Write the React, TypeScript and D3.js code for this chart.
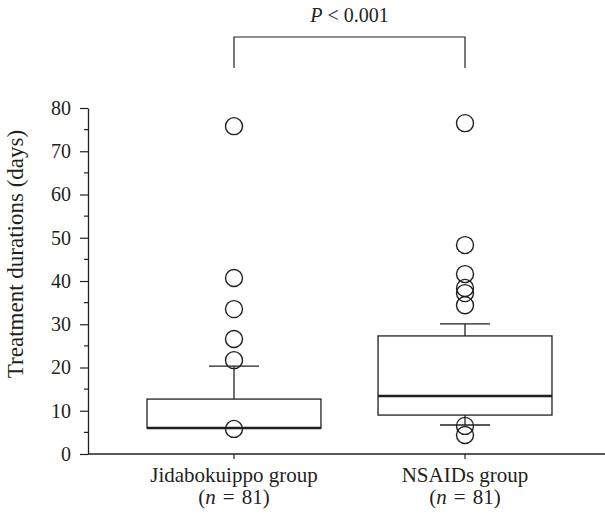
import * as d3 from 'd3';
import { useEffect, useRef } from 'react';

// groups and summary stats (days)
const categories = ['Jidabokuippo group', 'NSAIDs group'];
const groupN = [81, 81];
const q1 = [6.0, 9.0];
const medians = [6.0, 13.4];
const q3 = [12.7, 27.3];
const whiskerLow = [6.0, 6.7];
const whiskerHigh = [20.3, 30.1];
const outliersJida = [75.8, 40.7, 33.5, 26.6, 21.7, 5.8];
const outliersNsaid = [76.5, 48.3, 41.6, 38.4, 37.2, 34.4, 6.5, 4.4];
const yTicks = [0, 10, 20, 30, 40, 50, 60, 70, 80];
const yMinorTicks = [5, 15, 25, 35, 45, 55, 65, 75];
const pLabel = '< 0.001';

const FONT = '"Liberation Serif", "Times New Roman", serif';

function App() {
    const svgRef = useRef(null);

    useEffect(() => {
        const w = 605;
        const h = 516;
        const svg = d3.select(svgRef.current)
            .attr('width', w)
            .attr('height', h);
        svg.selectAll('*').remove();

        const left = 88;
        const right = 605;
        const y = d3.scaleLinear().domain([0, 80]).range([454, 108]);
        const x = d3.scalePoint()
            .domain(categories)
            .range([94, 605])
            .padding(0.606);
        const boxW = x.step() * 0.753;
        const capW = 50;
        const ink = '#231f20';

        // y axis
        const yAxis = d3.axisLeft(y)
            .tickValues(yTicks)
            .tickSize(8)
            .tickSizeOuter(0)
            .tickPadding(9);
        const gy = svg.append('g')
            .attr('transform', `translate(${left},0)`)
            .call(yAxis);
        gy.select('.domain').attr('stroke', ink).attr('stroke-width', 1.3);
        gy.selectAll('.tick line').attr('stroke', ink).attr('stroke-width', 1.2);
        gy.selectAll('.tick text')
            .attr('font-family', FONT)
            .attr('font-size', 20)
            .attr('fill', ink);
        gy.selectAll('.minor')
            .data(yMinorTicks)
            .join('line')
            .attr('x1', -4)
            .attr('x2', 0)
            .attr('y1', d => y(d))
            .attr('y2', d => y(d))
            .attr('stroke', ink)
            .attr('stroke-width', 1.2);

        svg.append('text')
            .attr('transform', `translate(23,254) rotate(-90)`)
            .attr('text-anchor', 'middle')
            .attr('font-family', FONT)
            .attr('font-size', 23)
            .attr('fill', ink)
            .text('Treatment durations (days)');

        // x axis
        svg.append('line')
            .attr('x1', left).attr('x2', right)
            .attr('y1', y(0)).attr('y2', y(0))
            .attr('stroke', ink).attr('stroke-width', 1.3);
        const gx = svg.append('g');
        const xt = gx.selectAll('g')
            .data(categories)
            .join('g')
            .attr('transform', d => `translate(${x(d)},${y(0)})`);
        xt.append('line')
            .attr('y1', 0).attr('y2', 5)
            .attr('stroke', ink).attr('stroke-width', 1.2);
        xt.append('text')
            .attr('y', 28)
            .attr('text-anchor', 'middle')
            .attr('font-family', FONT)
            .attr('font-size', 21)
            .attr('fill', ink)
            .text(d => d);
        const nText = xt.append('text')
            .attr('y', 50)
            .attr('text-anchor', 'middle')
            .attr('font-family', FONT)
            .attr('font-size', 21)
            .attr('fill', ink);
        nText.append('tspan').text('(');
        nText.append('tspan').attr('font-style', 'italic').text('n');
        nText.append('tspan').text((d, i) => `\u2004=\u2004${groupN[i]})`);

        // boxes
        const stats = categories.map((c, i) => ({
            c,
            q1: q1[i],
            med: medians[i],
            q3: q3[i],
            lo: whiskerLow[i],
            hi: whiskerHigh[i],
            out: i === 0 ? outliersJida : outliersNsaid,
        }));
        const gb = svg.append('g')
            .selectAll('g')
            .data(stats)
            .join('g')
            .attr('transform', d => `translate(${x(d.c)},0)`);

        gb.append('line')
            .attr('y1', d => y(d.q3)).attr('y2', d => y(d.hi))
            .attr('stroke', ink).attr('stroke-width', 1.3);
        gb.append('line')
            .attr('y1', d => y(d.q1)).attr('y2', d => y(d.lo))
            .attr('stroke', ink).attr('stroke-width', 1.3);
        gb.append('line')
            .attr('x1', -capW / 2).attr('x2', capW / 2)
            .attr('y1', d => y(d.hi)).attr('y2', d => y(d.hi))
            .attr('stroke', ink).attr('stroke-width', 1.3);
        gb.append('line')
            .attr('x1', -capW / 2).attr('x2', capW / 2)
            .attr('y1', d => y(d.lo)).attr('y2', d => y(d.lo))
            .attr('stroke', ink).attr('stroke-width', 1.3);
        gb.append('rect')
            .attr('x', -boxW / 2)
            .attr('width', boxW)
            .attr('y', d => y(d.q3))
            .attr('height', d => y(d.q1) - y(d.q3))
            .attr('fill', 'none')
            .attr('stroke', ink)
            .attr('stroke-width', 1.3);
        gb.append('line')
            .attr('x1', -boxW / 2).attr('x2', boxW / 2)
            .attr('y1', d => y(d.med)).attr('y2', d => y(d.med))
            .attr('stroke', ink).attr('stroke-width', 2.4);

        gb.selectAll('circle')
            .data(d => d.out)
            .join('circle')
            .attr('cx', 0)
            .attr('cy', v => y(v))
            .attr('r', 8.5)
            .attr('fill', 'none')
            .attr('stroke', ink)
            .attr('stroke-width', 1.4);

        // significance bracket
        const bx1 = x(categories[0]);
        const bx2 = x(categories[1]);
        svg.append('path')
            .attr('d', `M${bx1},68V37H${bx2}V68`)
            .attr('fill', 'none')
            .attr('stroke', ink)
            .attr('stroke-width', 1.2);
        const pt = svg.append('text')
            .attr('x', (bx1 + bx2) / 2)
            .attr('y', 22)
            .attr('text-anchor', 'middle')
            .attr('font-family', FONT)
            .attr('font-size', 20)
            .attr('fill', ink);
        pt.append('tspan').attr('font-style', 'italic').text('P');
        pt.append('tspan').text(' ' + pLabel);
    }, []);

    return (
        <div style={{ position: 'absolute', left: 0, top: 0 }}>
            <svg ref={svgRef} style={{ display: 'block' }}></svg>
        </div>
    );
}

export default App;
